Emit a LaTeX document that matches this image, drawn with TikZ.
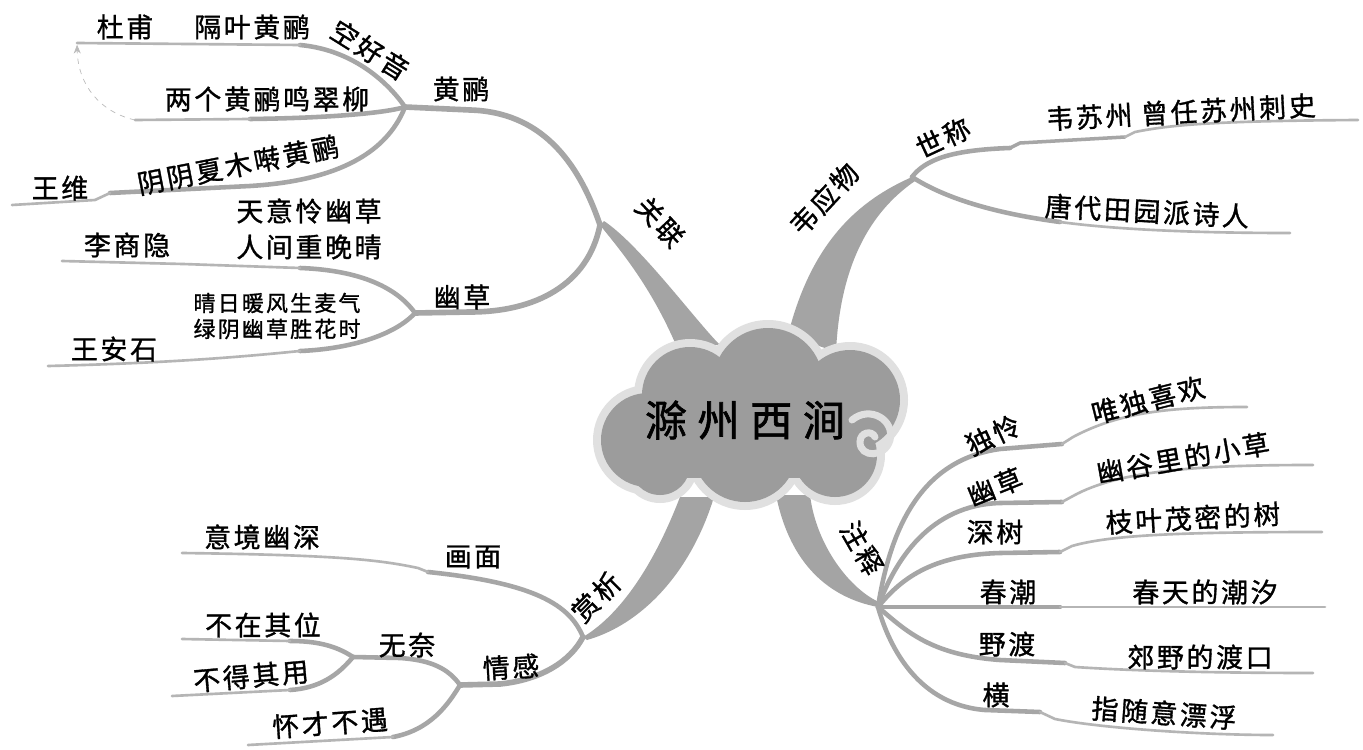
\documentclass[tikz,border=0pt]{standalone}
\usepackage{fontspec}
\usepackage{tikz}
\usetikzlibrary{arrows.meta}
\newfontfamily\cjk[LetterSpace=10, FakeBold=1.2]{Noto Sans CJK SC}
\newfontfamily\cjkwide[LetterSpace=25, FakeBold=1.5]{Noto Sans CJK SC}
\definecolor{mmcloud}{HTML}{9C9C9C}
\definecolor{mmhalo}{HTML}{E0E0E0}
\definecolor{mmbranch}{HTML}{A4A4A4}
\definecolor{mmline}{HTML}{A6A6A6}
\definecolor{mmtip}{HTML}{B5B5B5}
\definecolor{mmdash}{HTML}{BBBBBB}
\tikzset{
  lbl/.style={font=\cjk\fontsize{15.3}{18}\selectfont, inner sep=1pt},
  lblsm/.style={font=\cjk\fontsize{12.5}{15}\selectfont, inner sep=1pt},
  ttl/.style={font=\cjkwide\fontsize{24}{28}\selectfont, inner sep=1pt},
  band/.style={fill=mmbranch, draw=none},
  twigbig/.style={draw=mmline, line width=3.2pt, line cap=round},
  twig/.style={draw=mmline, line width=2.6pt, line cap=round},
  twigthin/.style={draw=mmtip, line width=1.5pt, line cap=round},
  darr/.style={-{Stealth[length=5pt,width=4pt]}, dashed, thin, mmdash, shorten >=1pt},
}

\begin{document}
\begin{tikzpicture}[x=0.02cm, y=-0.02cm]
  \fill[white] (0,0) rectangle (1363,750);
  \useasboundingbox (0,0) rectangle (1363,750);

  % hubs
  \coordinate (hGuan) at (600,225);
  \coordinate (hHL) at (405,107);
  \coordinate (hYC) at (415,313);
  \coordinate (hWei) at (912,177);
  \coordinate (hShang) at (583,637);
  \coordinate (hQG) at (460,685);
  \coordinate (hWN) at (353,657);
  \coordinate (hZhu) at (878,607);

  % steps and ends
  \coordinate (mDu) at (300,45);     \coordinate (eDu) at (77,43);
  \coordinate (mLiang) at (250,119); \coordinate (eLiang) at (135,120);
  \coordinate (mWang) at (110,193);  \coordinate (eWang) at (12,205);
  \coordinate (mLi) at (300,268);    \coordinate (eLi) at (62,261);
  \coordinate (mWAS) at (300,351);   \coordinate (eWAS) at (48,366);
  \coordinate (mSZa) at (1010,148);  \coordinate (mSZb) at (1125,137);
  \coordinate (eSZ) at (1358,120);
  \coordinate (mTang) at (1060,222); \coordinate (eTang) at (1290,233);
  \coordinate (mHM) at (428,572);    \coordinate (eYJ) at (182,553);
  \coordinate (mBZ) at (290,641);    \coordinate (eBZ) at (182,639);
  \coordinate (mBD) at (290,690);    \coordinate (eBD) at (172,696);
  \coordinate (mHC) at (393,737);    \coordinate (eHC) at (248,745);
  \coordinate (mDL) at (1062,444);   \coordinate (eDL) at (1247,407);
  \coordinate (mYG) at (1062,502);   \coordinate (eYG) at (1313,465);
  \coordinate (mSS) at (1060,552);   \coordinate (eSS) at (1322,532);
  \coordinate (mCC) at (1060,607);   \coordinate (eCC) at (1325,607);
  \coordinate (mYD) at (1065,663);   \coordinate (eYD) at (1313,673);
  \coordinate (mHeng) at (1040,712); \coordinate (eHeng) at (1273,735);

  % main branches
  \fill[band] (hGuan) .. controls (620,250) and (650,285) .. (676,345)
    -- (720,345) .. controls (695,320) and (640,245) .. (604,221) -- cycle;
  \fill[band] (hWei) .. controls (860,200) and (812,240) .. (788,335)
    -- (836,352) .. controls (840,265) and (870,212) .. (915,181) -- cycle;
  \fill[band] (hShang) .. controls (615,618) and (650,575) .. (680,497)
    -- (714,497) .. controls (690,575) and (640,625) .. (587,640) -- cycle;
  \fill[band] (776,495) .. controls (790,565) and (830,598) .. (hZhu)
    -- (881,603) .. controls (850,590) and (816,545) .. (810,495) -- cycle;

  % hub to hub
  \draw[twigbig] (hHL) -- (470,110) .. controls (540,112) and (578,160) .. (hGuan);
  \draw[twigbig] (hGuan) .. controls (588,285) and (535,312) .. (470,312) -- (hYC);
  \draw[twigbig] (hShang) .. controls (570,662) and (540,680) .. (500,684) -- (hQG);
  \draw[twig] (hQG) .. controls (448,668) and (430,660) .. (400,658) -- (hWN);

  % 黄鹂
  \draw[twig] (hHL) .. controls (390,85) and (355,50) .. (mDu);
  \draw[twigthin] (mDu) -- (eDu);
  \draw[twig] (hHL) .. controls (385,113) and (330,118) .. (mLiang);
  \draw[twigthin] (mLiang) -- (eLiang);
  \draw[twig] (hHL) .. controls (390,145) and (350,180) .. (250,186) -- (mWang);
  \draw[twigthin] (mWang) -- (95,200) -- (eWang);
  \draw[darr] (eLiang) .. controls (100,112) and (78,85) .. (eDu);

  % 幽草
  \draw[twig] (hYC) .. controls (395,285) and (355,270) .. (mLi);
  \draw[twigthin] (mLi) -- (183,264) -- (eLi);
  \draw[twig] (hYC) .. controls (395,335) and (350,349) .. (mWAS);
  \draw[twigthin] (mWAS) .. controls (240,357) and (170,363) .. (eWAS);

  % 韦应物
  \draw[twig] (hWei) .. controls (925,160) and (950,150) .. (mSZa);
  \draw[twig, line width=2pt] (mSZa) -- (1020,143) -- (mSZb);
  \draw[twigthin] (mSZb) -- (1135,132) .. controls (1170,125) and (1210,121) .. (eSZ);
  \draw[twig] (hWei) .. controls (940,195) and (985,212) .. (mTang);
  \draw[twigthin] (mTang) .. controls (1120,230) and (1200,233) .. (eTang);

  % 赏析
  \draw[twig] (hShang) .. controls (570,605) and (535,583) .. (mHM);
  \draw[twigthin] (mHM) -- (418,568) .. controls (380,560) and (340,555) .. (eYJ);
  \draw[twig] (hWN) .. controls (335,645) and (315,641) .. (mBZ);
  \draw[twigthin] (mBZ) -- (eBZ);
  \draw[twig] (hWN) .. controls (338,675) and (320,688) .. (mBD);
  \draw[twigthin] (mBD) -- (eBD);
  \draw[twig] (hQG) .. controls (448,705) and (430,730) .. (mHC);
  \draw[twigthin] (mHC) -- (eHC);

  % 注释
  \draw[twig] (hZhu) .. controls (890,530) and (920,460) .. (1000,449) -- (mDL);
  \draw[twigthin] (mDL) -- (1073,437) .. controls (1120,412) and (1170,407) .. (eDL);
  \draw[twig] (hZhu) .. controls (895,560) and (930,505) .. (1000,503) -- (mYG);
  \draw[twigthin] (mYG) -- (1073,496) .. controls (1120,470) and (1200,465) .. (eYG);
  \draw[twig] (hZhu) .. controls (900,580) and (930,555) .. (1000,553) -- (mSS);
  \draw[twigthin] (mSS) -- (1072,546) .. controls (1110,535) and (1180,532) .. (eSS);
  \draw[twig] (hZhu) -- (mCC);
  \draw[twigthin] (mCC) -- (eCC);
  \draw[twig] (hZhu) .. controls (905,630) and (930,655) .. (1000,660) -- (mYD);
  \draw[twigthin] (mYD) -- (1075,667) .. controls (1150,672) and (1250,673) .. (eYD);
  \draw[twig] (hZhu) .. controls (890,650) and (920,705) .. (985,710) -- (mHeng);
  \draw[twigthin] (mHeng) -- (1055,719) .. controls (1100,728) and (1200,735) .. (eHeng);

  % cloud
  \foreach \cx/\cy/\r/\rr in {648/440/47/55, 690/395/48/56, 768/383/55/63,
      850/400/50/58, 835/455/42/50, 745/450/52/60, 660/465/30/38}
    \fill[mmhalo] (\cx,\cy) circle[radius=\rr];
  \foreach \cx/\cy/\r/\rr in {648/440/47/55, 690/395/48/56, 768/383/55/63,
      850/400/50/58, 835/455/42/50, 745/450/52/60, 660/465/30/38}
    \fill[mmcloud] (\cx,\cy) circle[radius=\r];
  \fill[mmcloud] (650,395) rectangle (855,478);
  \draw[mmhalo, line width=4pt, line cap=round] (852,420) .. controls (870,405) and (895,420) .. (890,440)
    .. controls (885,458) and (860,458) .. (860,442) .. controls (860,432) and (872,430) .. (875,437);

  \node[ttl] (tTitle) at (745,420) {滁州西涧};

  % labels
  \node[lbl, rotate=-47] (tGuanlian) at (660,222) {关联};
  \node[lbl] (tHL) at (461,89) {黄鹂};
  \node[lbl] (tDufu) at (125,27) {杜甫};
  \node[lbl] (tGeye) at (252,27) {隔叶黄鹂};
  \node[lbl, rotate=-32] (tKong) at (370,50) {空好音};
  \node[lbl] (tLiangge) at (267,99) {两个黄鹂鸣翠柳};
  \node[lbl, rotate=11] (tYinyin) at (238,165) {阴阴夏木啭黄鹂};
  \node[lbl] (tWangwei) at (60,188) {王维};
  \node[lbl] (tTianyi) at (309,211) {天意怜幽草};
  \node[lbl] (tRenjian) at (309,247) {人间重晚晴};
  \node[lbl] (tLi) at (127,245) {李商隐};
  \node[lbl] (tYoucaoL) at (462,297) {幽草};
  \node[lblsm] (tQingri) at (277,303) {晴日暖风生麦气};
  \node[lblsm] (tLvyin) at (277,329) {绿阴幽草胜花时};
  \node[lbl] (tWAS) at (114,349) {王安石};

  \node[lbl, rotate=47] (tWei) at (824,199) {韦应物};
  \node[lbl, rotate=25] (tShicheng) at (943,138) {世称};
  \node[lbl, rotate=3] (tSuzhou) at (1181,112) {韦苏州 曾任苏州刺史};
  \node[lbl, rotate=-3] (tTang) at (1147,211) {唐代田园派诗人};

  \node[lbl] (tYJ) at (262,537) {意境幽深};
  \node[lbl] (tHM) at (473,557) {画面};
  \node[lbl, rotate=45] (tShangxi) at (596,597) {赏析};
  \node[lbl] (tBZ) at (263,625) {不在其位};
  \node[lbl] (tWN) at (407,645) {无奈};
  \node[lbl, rotate=3] (tQG) at (511,667) {情感};
  \node[lbl, rotate=5] (tBD) at (251,676) {不得其用};
  \node[lbl, rotate=4] (tHC) at (330,723) {怀才不遇};

  \node[lbl, rotate=-60] (tZhushi) at (862,548) {注释};
  \node[lbl, rotate=25] (tDL) at (993,435) {独怜};
  \node[lbl, rotate=14] (tWeidu) at (1148,400) {唯独喜欢};
  \node[lbl, rotate=22] (tYoucaoR) at (995,487) {幽草};
  \node[lbl, rotate=10] (tYougu) at (1183,458) {幽谷里的小草};
  \node[lbl] (tSS) at (995,532) {深树};
  \node[lbl, rotate=3] (tZhiye) at (1193,518) {枝叶茂密的树};
  \node[lbl] (tCC) at (1008,592) {春潮};
  \node[lbl] (tChuntian) at (1205,592) {春天的潮汐};
  \node[lbl] (tYD) at (1007,644) {野渡};
  \node[lbl] (tJiaoye) at (1200,657) {郊野的渡口};
  \node[lbl] (tHeng) at (996,695) {横};
  \node[lbl, rotate=-4] (tZhisui) at (1164,713) {指随意漂浮};
\end{tikzpicture}
\end{document}
